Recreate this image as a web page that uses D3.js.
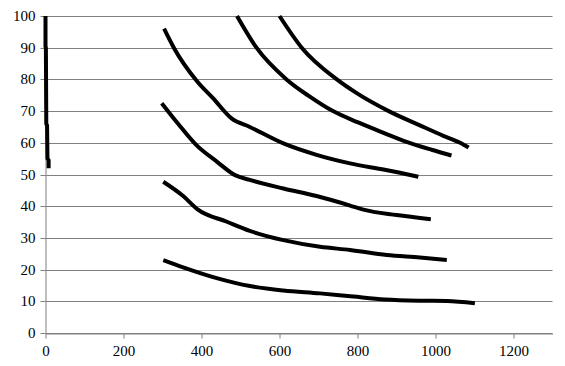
<!DOCTYPE html>
<html>
<head>
<meta charset="utf-8">
<script src="https://cdn.jsdelivr.net/npm/d3@7"></script>
<style>
  body { margin: 0; background: #fff; }
  svg text { font-family: "Liberation Serif", "Times New Roman", serif !important; font-size: 15px; }
</style>
</head>
<body>
<div id="chart"></div>
<script>
// x ticks / y ticks
const xTicks = [0, 200, 400, 600, 800, 1000, 1200];
const yTicks = [0, 10, 20, 30, 40, 50, 60, 70, 80, 90, 100];

// each series as [x, y]
const seriesZero = [[0, 100], [0, 90.3], [1, 90], [2, 66], [4, 65.5], [5, 55], [8, 54.5], [8, 52]];
const seriesA = [[600, 100], [657, 90], [747, 80], [800, 75.5], [880, 70], [960, 65.5], [1020, 62.2], [1063, 60], [1085, 58.5]];
const seriesB = [[491, 100], [541, 90], [618, 80], [675, 74.8], [737, 70], [800, 66.5], [870, 63], [926, 60.3], [990, 57.8], [1041, 56]];
const seriesC = [[304, 96], [329, 90], [388, 79.5], [430, 74], [477, 67.7], [524, 65], [610, 59.8], [695, 56.2], [781, 53.5], [870, 51.5], [956, 49.3]];
const seriesD = [[298, 72.5], [340, 66], [385, 59.5], [440, 54], [486, 49.8], [524, 48.3], [610, 45.6], [695, 43.2], [781, 40.2], [815, 38.9], [900, 37.2], [988, 35.9]];
const seriesE = [[302, 47.7], [353, 43.2], [390, 39], [465, 35.1], [524, 32.2], [610, 29.3], [704, 27.2], [781, 26.2], [875, 24.6], [960, 23.8], [1029, 23]];
const seriesF = [[302, 23], [353, 20.7], [439, 17.3], [524, 14.8], [610, 13.4], [704, 12.5], [789, 11.5], [870, 10.6], [960, 10.2], [1029, 10.1], [1101, 9.4]];

const curveSeries = [seriesA, seriesB, seriesC, seriesD, seriesE, seriesF];

const width = 565, height = 366;
const margin = {top: 16, right: 12.5, bottom: 33, left: 45.5};

const svg = d3.select("#chart").append("svg")
    .attr("width", width)
    .attr("height", height);

const x = d3.scaleLinear().domain([0, 1300]).range([margin.left, width - margin.right]);
const y = d3.scaleLinear().domain([0, 100]).range([height - margin.bottom, margin.top]);

// gridlines
svg.append("g")
    .selectAll("line")
    .data(yTicks)
    .enter()
    .append("line")
    .attr("x1", x(0))
    .attr("x2", x(1300))
    .attr("y1", d => Math.round(y(d)) + 0.5)
    .attr("y2", d => Math.round(y(d)) + 0.5)
    .attr("stroke", "#808080")
    .attr("stroke-width", 1);

// axes
const xAxis = svg.append("g")
    .attr("transform", "translate(0," + (Math.round(y(0)) + 0.5) + ")")
    .call(d3.axisBottom(x).tickValues(xTicks).tickFormat(d3.format("d"))
        .tickSize(5).tickSizeOuter(0).tickPadding(7));

const yAxis = svg.append("g")
    .attr("transform", "translate(" + (Math.round(x(0)) - 0.5) + ",0)")
    .call(d3.axisLeft(y).tickValues(yTicks).tickFormat(d3.format("d"))
        .tickSize(5).tickSizeOuter(0).tickPadding(5));

[xAxis, yAxis].forEach(a => {
    a.attr("font-family", null).attr("font-size", null);
    a.select(".domain").attr("stroke", "#808080");
    a.selectAll(".tick line").attr("stroke", "#808080");
    a.selectAll(".tick text").attr("fill", "#000");
});
yAxis.selectAll(".tick").attr("transform", d => "translate(0," + (Math.round(y(d)) + 0.5) + ")");

// curves
const line = d3.line()
    .x(d => x(d[0]))
    .y(d => y(d[1]))
    .curve(d3.curveMonotoneX);

const stepLine = d3.line()
    .x(d => x(d[0]))
    .y(d => y(d[1]));

const plot = svg.append("g")
    .attr("fill", "none")
    .attr("stroke", "#000")
    .attr("stroke-width", 4)
    .attr("stroke-linejoin", "round");

plot.selectAll(".curve")
    .data(curveSeries)
    .enter()
    .append("path")
    .attr("class", "curve")
    .attr("d", line);

plot.append("path")
    .datum(seriesZero)
    .attr("d", stepLine);
</script>
</body>
</html>
